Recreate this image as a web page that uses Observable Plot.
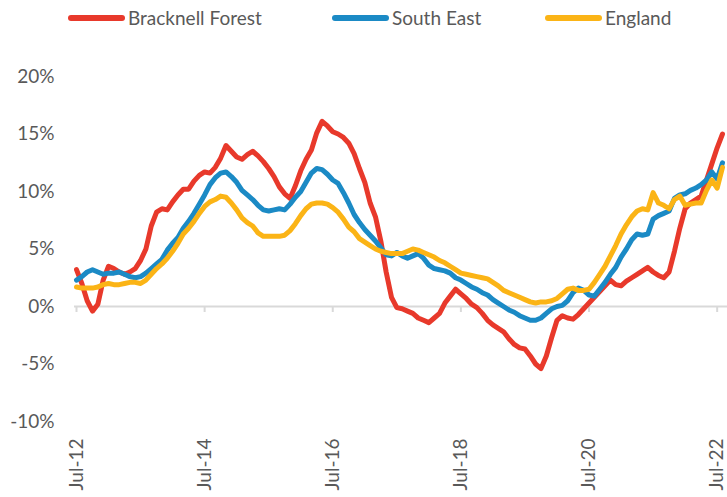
<!DOCTYPE html>
<html>
<head>
<meta charset="utf-8">
<script src="https://cdn.jsdelivr.net/npm/d3@7"></script>
<script src="https://cdn.jsdelivr.net/npm/@observablehq/plot@0.6"></script>
<style>
  html, body { margin: 0; padding: 0; background: #fff; }
  body { width: 727px; height: 497px; overflow: hidden; font-family: Lato, sans-serif; }
  #legend { position: relative; height: 36px; }
  .item { position: absolute; top: 7px; display: flex; align-items: center; color: #595959; font-size: 19px; line-height: 22px; }
  .sw { width: 57px; height: 6px; border-radius: 3px; margin-right: 3px; }
  #chart svg { display: block; }
</style>
</head>
<body>
<div id="legend"></div>
<div id="chart"></div>
<script>
// Series (monthly, starting Jul-12), annual % change
const seriesNames = ["Bracknell Forest", "South East", "England"];
const tickLabels = ["Jul-12", "Jul-14", "Jul-16", "Jul-18", "Jul-20", "Jul-22"];
const tickMonths = [0, 24, 48, 72, 96, 120];

const bracknell = [
  3.2, 2.0, 0.5, -0.4, 0.2, 2.3, 3.5, 3.3, 3.0, 2.8, 3.0, 3.3,
  4.0, 5.0, 7.0, 8.2, 8.5, 8.4, 9.1, 9.7, 10.2, 10.2, 10.9, 11.4,
  11.7, 11.6, 12.1, 12.9, 14.0, 13.5, 13.0, 12.8, 13.2, 13.5, 13.1, 12.6,
  12.0, 11.3, 10.4, 9.8, 9.4, 10.5, 11.8, 12.8, 13.6, 15.1, 16.1, 15.7,
  15.2, 15.0, 14.7, 14.2, 13.3, 12.0, 10.8, 9.0, 7.8, 5.7, 3.0, 0.8,
  -0.1, -0.2, -0.4, -0.6, -1.0, -1.2, -1.4, -1.0, -0.6, 0.3, 0.9, 1.5,
  1.1, 0.7, 0.2, -0.1, -0.6, -1.2, -1.6, -1.9, -2.2, -2.8, -3.3, -3.6,
  -3.7, -4.3, -5.0, -5.4, -4.3, -2.7, -1.2, -0.8, -1.0, -1.1, -0.7, -0.2,
  0.3, 0.8, 1.3, 1.8, 2.3, 1.9, 1.8, 2.2, 2.5, 2.8, 3.1, 3.4,
  3.0, 2.7, 2.5, 3.0, 4.8, 6.8, 8.5, 9.0, 9.3, 9.6, 11.0, 12.4,
  13.8, 15.0
];
const southEast = [
  2.3, 2.6, 3.0, 3.2, 3.0, 2.8, 2.9, 2.9, 3.0, 2.8, 2.6, 2.5,
  2.6, 2.9, 3.3, 3.7, 4.1, 4.9, 5.5, 6.0, 6.8, 7.4, 8.1, 8.9,
  9.7, 10.6, 11.2, 11.6, 11.7, 11.3, 10.8, 10.1, 9.7, 9.3, 8.8, 8.4,
  8.3, 8.4, 8.5, 8.4, 8.9, 9.5, 10.0, 10.8, 11.6, 12.0, 11.9, 11.5,
  11.0, 10.7, 9.9, 9.0, 8.0, 7.3, 6.7, 6.2, 5.7, 5.1, 4.5, 4.4,
  4.7, 4.4, 4.2, 4.4, 4.6, 4.2, 3.6, 3.3, 3.2, 3.1, 2.9, 2.5,
  2.3, 2.0, 1.7, 1.5, 1.2, 1.0, 0.6, 0.3, 0.0, -0.3, -0.5, -0.8,
  -1.0, -1.2, -1.2, -1.0, -0.6, -0.2, 0.0, 0.1, 0.5, 1.2, 1.6, 1.4,
  1.0, 0.9, 1.5, 2.1, 2.8, 3.4, 4.3, 5.0, 5.8, 6.3, 6.2, 6.3,
  7.6, 7.9, 8.1, 8.3, 9.4, 9.7, 9.8, 10.1, 10.3, 10.6, 11.0, 11.7,
  11.1, 12.5
];
const england = [
  1.7, 1.6, 1.6, 1.6, 1.7, 1.9, 2.0, 1.9, 1.9, 2.0, 2.1, 2.1,
  2.0, 2.3, 2.8, 3.3, 3.7, 4.2, 4.8, 5.5, 6.3, 6.8, 7.4, 8.1,
  8.7, 9.1, 9.3, 9.6, 9.5, 9.0, 8.4, 7.7, 7.3, 7.0, 6.4, 6.1,
  6.1, 6.1, 6.1, 6.2, 6.6, 7.2, 7.9, 8.5, 8.9, 9.0, 9.0, 8.9,
  8.6, 8.2, 7.6, 6.9, 6.5, 5.9, 5.6, 5.3, 5.0, 4.8, 4.7, 4.6,
  4.6, 4.6, 4.8, 5.0, 4.9, 4.7, 4.5, 4.3, 4.0, 3.8, 3.5, 3.2,
  2.9, 2.8, 2.7, 2.6, 2.5, 2.4, 2.1, 1.8, 1.4, 1.2, 1.0, 0.8,
  0.6, 0.4, 0.3, 0.4, 0.4, 0.5, 0.7, 1.1, 1.5, 1.6, 1.4, 1.4,
  1.5, 2.1, 2.8, 3.5, 4.4, 5.3, 6.3, 7.1, 7.8, 8.3, 8.5, 8.4,
  9.9, 9.0, 8.8, 8.5, 9.3, 9.6, 8.8, 8.9, 9.0, 9.0, 10.1, 11.0,
  10.3, 12.1
];

const seriesColors = ["#E8392B", "#1B8AC5", "#FBB416"];
const seriesValues = [bracknell, southEast, england];

const rows = seriesValues.flatMap((vals, s) =>
  vals.map((v, m) => ({series: seriesNames[s], m, v}))
);

// Legend
const legendLeft = [68, 332, 545];
const legend = document.getElementById("legend");
seriesNames.forEach((name, i) => {
  const item = document.createElement("div");
  item.className = "item";
  item.style.left = legendLeft[i] + "px";
  const sw = document.createElement("span");
  sw.className = "sw";
  sw.style.background = seriesColors[i];
  const tx = document.createElement("span");
  tx.textContent = name;
  item.appendChild(sw);
  item.appendChild(tx);
  legend.appendChild(item);
});

const chart = Plot.plot({
  width: 727,
  height: 461,
  marginTop: 40,
  marginBottom: 76,
  marginLeft: 76,
  marginRight: 5,
  style: {fontFamily: "Lato, sans-serif", fontSize: "19px", color: "#595959", background: "white", overflow: "visible"},
  x: {
    type: "linear",
    domain: [0, bracknell.length - 1],
    ticks: tickMonths,
    tickFormat: d => tickLabels[tickMonths.indexOf(d)],
    tickRotate: -90,
    tickSize: 0,
    tickPadding: 17,
    label: null
  },
  y: {
    domain: [-10, 20],
    ticks: [-10, -5, 0, 5, 10, 15, 20],
    tickFormat: d => d + "%",
    tickSize: 0,
    tickPadding: 22,
    label: null
  },
  color: {domain: seriesNames, range: seriesColors},
  marks: [
    Plot.ruleY([0], {stroke: "#d9d9d9", strokeWidth: 2, insetLeft: -2, insetRight: -5}),
    Plot.ruleX(tickMonths, {x: d => d, y1: 0, y2: 0, insetBottom: -6, stroke: "#d9d9d9", strokeWidth: 2}),
    Plot.line(rows, {x: "m", y: "v", z: "series", stroke: "series", strokeWidth: 5, strokeLinejoin: "round", strokeLinecap: "round"})
  ]
});
document.getElementById("chart").appendChild(chart);
</script>
</body>
</html>
